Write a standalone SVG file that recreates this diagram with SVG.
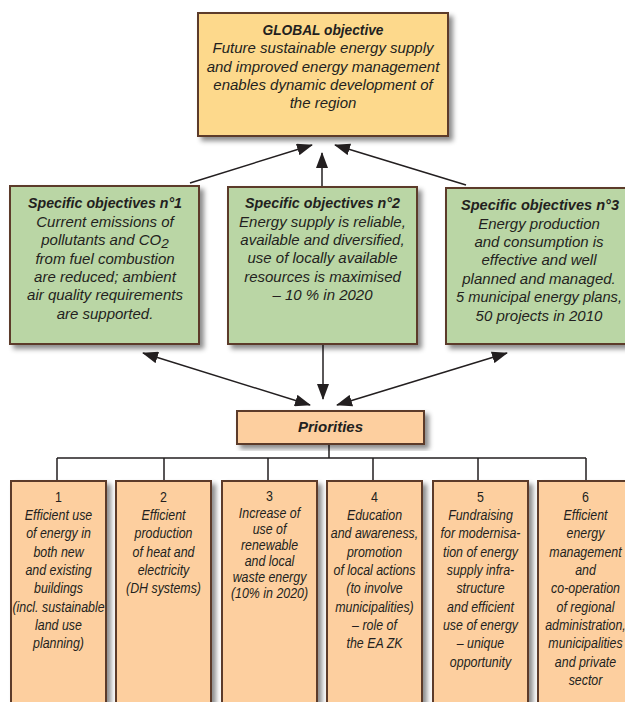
<svg xmlns="http://www.w3.org/2000/svg" width="625" height="702" viewBox="0 0 625 702">
<defs>
<filter id="sh" x="-10%" y="-10%" width="130%" height="130%">
<feDropShadow dx="4" dy="4" stdDeviation="2.5" flood-color="#000" flood-opacity="0.45"/>
</filter>
<marker id="ah" viewBox="0 0 16 12" refX="15" refY="6" markerWidth="16" markerHeight="12" markerUnits="userSpaceOnUse" orient="auto-start-reverse">
<path d="M0,0 L16,6 L0,12 Z" fill="#231f20"/>
</marker>
</defs>
<style>
.box{stroke:#5b3a29;stroke-width:2;filter:url(#sh)}
.gold{fill:#fdd98c}
.green{fill:#bad6a5}
.peach{fill:#fdcf9f}
.ln{stroke:#231f20;stroke-width:1.5;fill:none}
text{font-family:"Liberation Sans",Arial,sans-serif;font-style:italic;font-size:15px;fill:#231f20;text-anchor:middle}
.b{font-weight:bold}
.up{font-style:normal}
.pr text{font-size:15.5px}
</style>
<rect width="625" height="702" fill="#fff"/>
<g id="connectors">
<line class="ln" x1="190" y1="183" x2="312" y2="145" marker-end="url(#ah)"/>
<line class="ln" x1="322" y1="188" x2="322" y2="153" marker-end="url(#ah)"/>
<line class="ln" x1="466" y1="185" x2="335" y2="145" marker-end="url(#ah)"/>
<line class="ln" x1="143" y1="353" x2="310" y2="405" marker-start="url(#ah)" marker-end="url(#ah)"/>
<line class="ln" x1="323" y1="344" x2="323" y2="399" marker-end="url(#ah)"/>
<line class="ln" x1="507" y1="353" x2="337" y2="405" marker-start="url(#ah)" marker-end="url(#ah)"/>
<path class="ln" d="M329,444 V458 M57,458 H586 M57,458 V481 M164,458 V481 M268,458 V481 M373,458 V481 M478,458 V481 M586,458 V481"/>
</g>
<g id="global">
<rect class="box gold" x="198" y="13" width="250" height="123"/>
<text class="b" x="323" y="35" textLength="121" lengthAdjust="spacingAndGlyphs">GLOBAL objective</text>
<text x="323" y="53.3">Future sustainable energy supply</text>
<text x="323" y="71.6">and improved energy management</text>
<text x="323" y="90">enables dynamic development of</text>
<text x="323" y="108.3">the region</text>
</g>
<g id="objective1">
<rect class="box green" x="10" y="186" width="189" height="158"/>
<text class="b" x="105" y="208" textLength="154" lengthAdjust="spacingAndGlyphs">Specific objectives n°1</text>
<text x="105" y="226.5">Current emissions of</text>
<text x="105" y="245">pollutants and CO<tspan dy="2.5" font-size="13.5">2</tspan></text>
<text x="105" y="263.5">from fuel combustion</text>
<text x="105" y="281.5">are reduced; ambient</text>
<text x="105" y="300">air quality requirements</text>
<text x="105" y="318.5">are supported.</text>
</g>
<g id="objective2">
<rect class="box green" x="228" y="187" width="189" height="157"/>
<text class="b" x="322.5" y="208" textLength="155" lengthAdjust="spacingAndGlyphs">Specific objectives n°2</text>
<text x="322.5" y="226.5">Energy supply is reliable,</text>
<text x="322.5" y="245">available and diversified,</text>
<text x="322.5" y="263">use of locally available</text>
<text x="322.5" y="281.5">resources is maximised</text>
<text x="322.5" y="300">– 10 % in 2020</text>
</g>
<g id="objective3">
<rect class="box green" x="446" y="188" width="190" height="156"/>
<text class="b" x="540" y="210" textLength="158" lengthAdjust="spacingAndGlyphs">Specific objectives n°3</text>
<text x="539" y="228.5">Energy production</text>
<text x="539" y="247">and consumption is</text>
<text x="539" y="265">effective and well</text>
<text x="539" y="283.5">planned and managed.</text>
<text x="539" y="302" textLength="166" lengthAdjust="spacingAndGlyphs">5 municipal energy plans,</text>
<text x="539" y="320.5">50 projects in 2010</text>
</g>
<g id="priorities">
<rect class="box peach" x="237" y="411" width="187" height="33"/>
<text class="b" x="330.5" y="432" font-size="14">Priorities</text>
</g>
<g id="priority1" class="pr">
<rect class="box peach" x="11" y="481" width="95" height="240"/>
<g transform="translate(58.5,0) scale(0.8,1)">
<text class="up" x="0" y="502">1</text>
<text x="0" y="520">Efficient use</text>
<text x="0" y="538.3">of energy in</text>
<text x="0" y="556.7">both new</text>
<text x="0" y="575">and existing</text>
<text x="0" y="593.3">buildings</text>
<text x="0" y="611.7">(incl. sustainable</text>
<text x="0" y="630">land use</text>
<text x="0" y="648.3">planning)</text>
</g>
</g>
<g id="priority2" class="pr">
<rect class="box peach" x="116" y="481" width="95" height="240"/>
<g transform="translate(163.5,0) scale(0.8,1)">
<text class="up" x="0" y="502">2</text>
<text x="0" y="520">Efficient</text>
<text x="0" y="538.3">production</text>
<text x="0" y="556.7">of heat and</text>
<text x="0" y="575">electricity</text>
<text x="0" y="593.3">(DH systems)</text>
</g>
</g>
<g id="priority3" class="pr">
<rect class="box peach" x="222" y="481" width="95" height="240"/>
<g transform="translate(269.5,0) scale(0.8,1)">
<text class="up" x="0" y="501">3</text>
<text x="0" y="518.5">Increase of</text>
<text x="0" y="534.5">use of</text>
<text x="0" y="550.5">renewable</text>
<text x="0" y="566.5">and local</text>
<text x="0" y="582.5">waste energy</text>
<text x="0" y="598.5">(10% in 2020)</text>
</g>
</g>
<g id="priority4" class="pr">
<rect class="box peach" x="327" y="481" width="95" height="240"/>
<g transform="translate(374.5,0) scale(0.8,1)">
<text class="up" x="0" y="502">4</text>
<text x="0" y="520">Education</text>
<text x="0" y="538.3">and awareness,</text>
<text x="0" y="556.7">promotion</text>
<text x="0" y="575">of local actions</text>
<text x="0" y="593.3">(to involve</text>
<text x="0" y="611.7">municipalities)</text>
<text x="0" y="630">– role of</text>
<text x="0" y="648.3">the EA ZK</text>
</g>
</g>
<g id="priority5" class="pr">
<rect class="box peach" x="433" y="481" width="95" height="240"/>
<g transform="translate(480.5,0) scale(0.8,1)">
<text class="up" x="0" y="502">5</text>
<text x="0" y="520">Fundraising</text>
<text x="0" y="538.3">for modernisa-</text>
<text x="0" y="556.7">tion of energy</text>
<text x="0" y="575">supply infra-</text>
<text x="0" y="593.3">structure</text>
<text x="0" y="611.7">and efficient</text>
<text x="0" y="630">use of energy</text>
<text x="0" y="648.3">– unique</text>
<text x="0" y="666.7">opportunity</text>
</g>
</g>
<g id="priority6" class="pr">
<rect class="box peach" x="538" y="481" width="95" height="240"/>
<g transform="translate(585.5,0) scale(0.8,1)">
<text class="up" x="0" y="502">6</text>
<text x="0" y="520">Efficient</text>
<text x="0" y="538.3">energy</text>
<text x="0" y="556.7">management</text>
<text x="0" y="575">and</text>
<text x="0" y="593.3">co-operation</text>
<text x="0" y="611.7">of regional</text>
<text x="0" y="630">administration,</text>
<text x="0" y="648.3">municipalities</text>
<text x="0" y="666.7">and private</text>
<text x="0" y="685">sector</text>
</g>
</g>
</svg>
